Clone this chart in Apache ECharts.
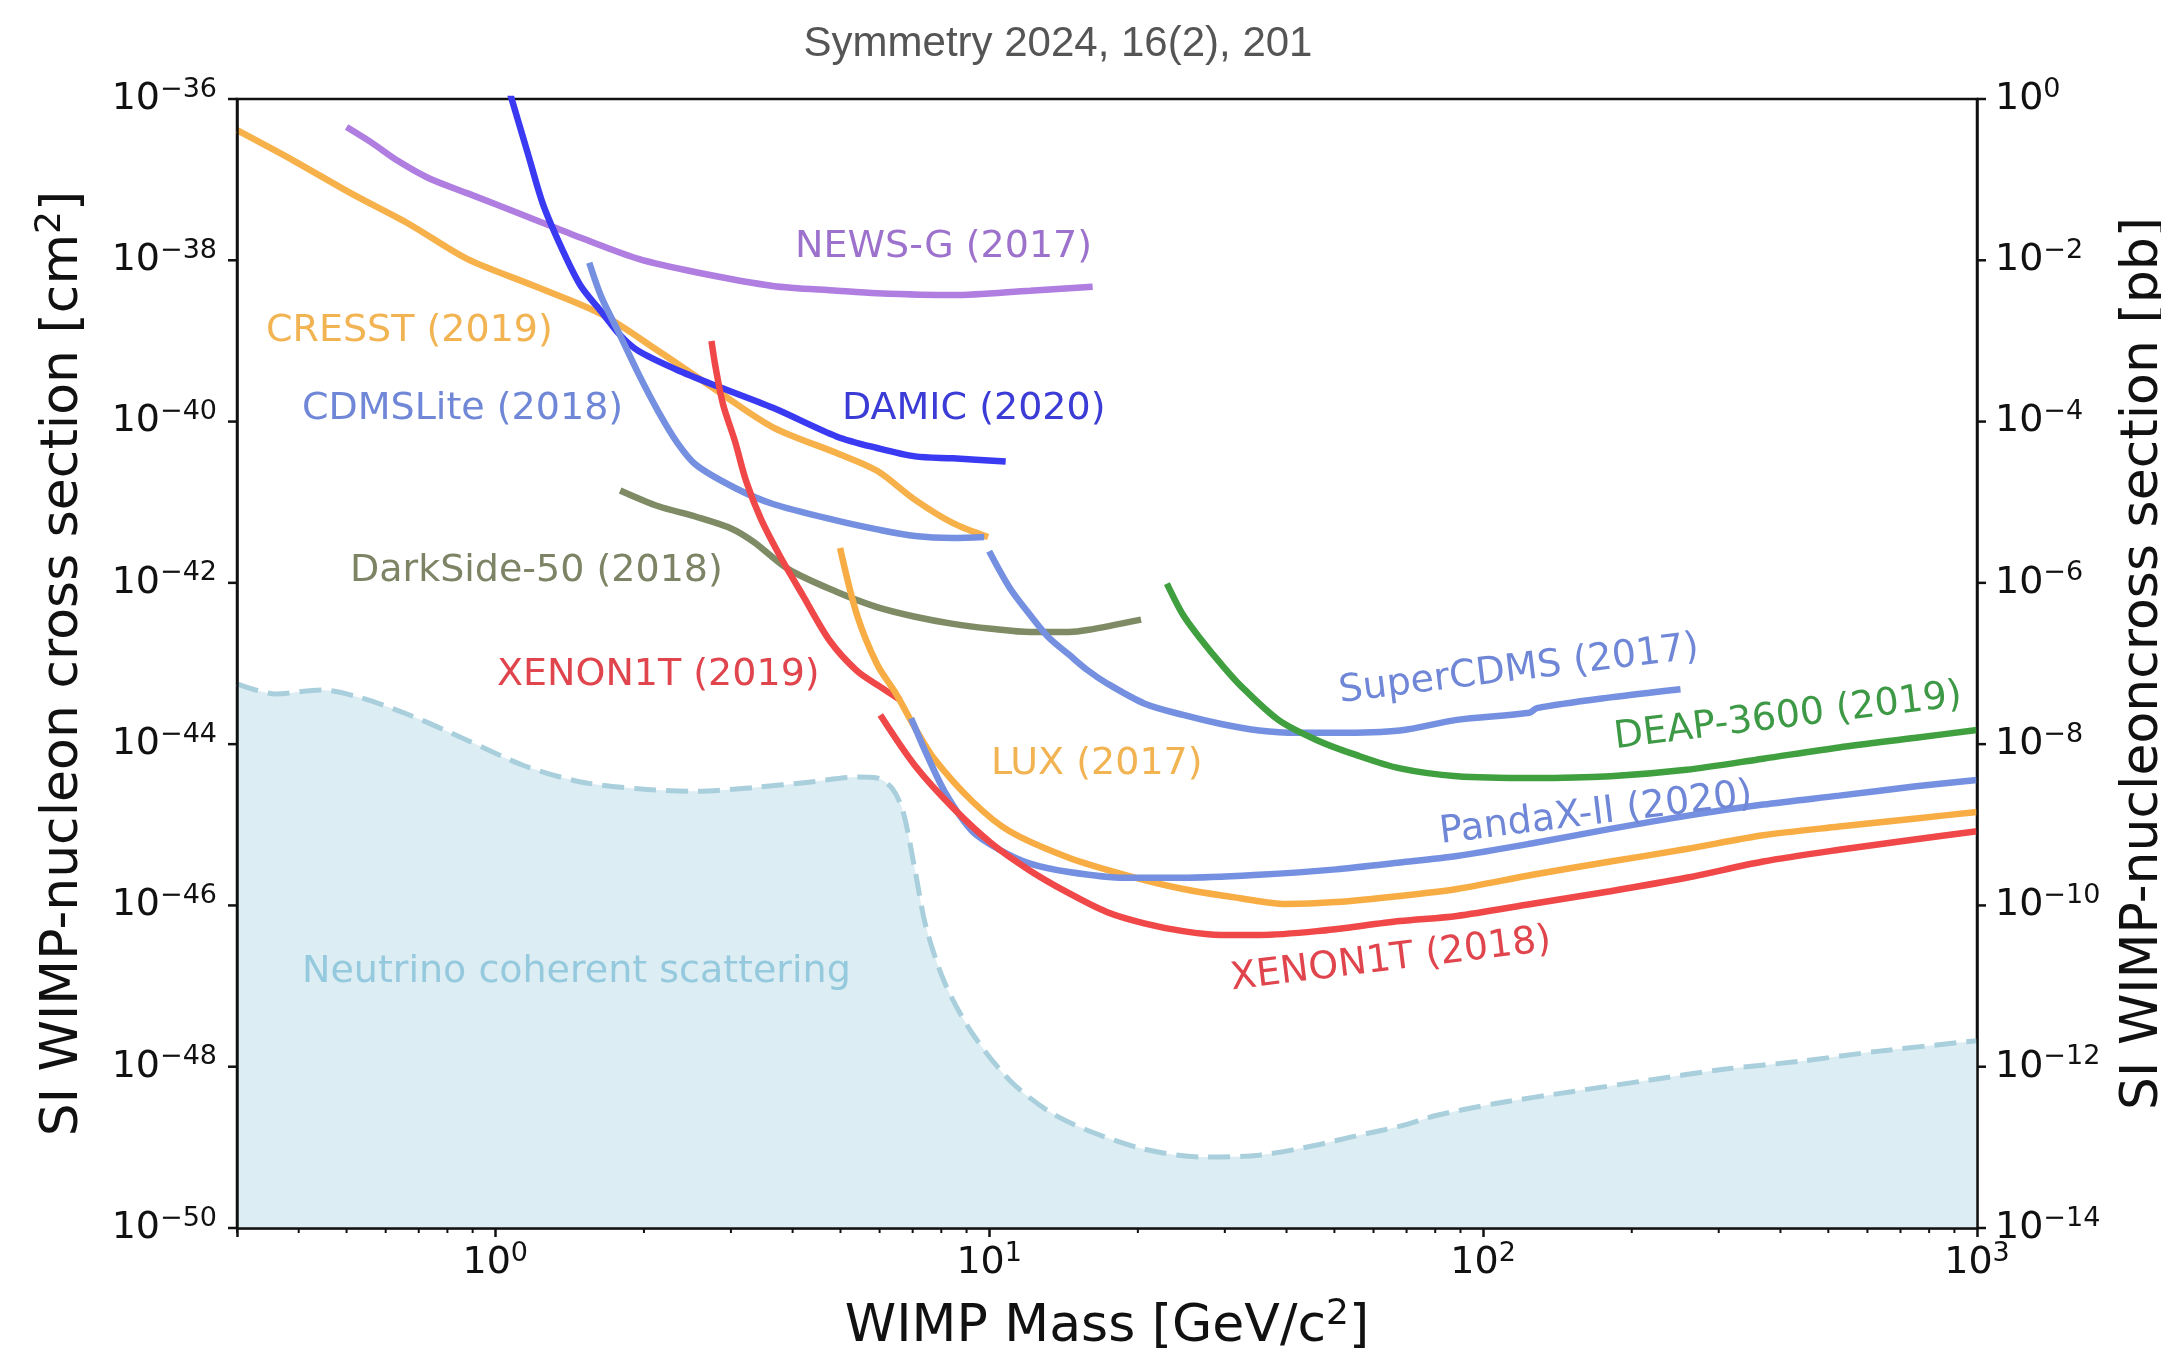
<!DOCTYPE html>
<html>
<head>
<meta charset="utf-8">
<title>WIMP limits</title>
<style>
html, body { margin: 0; padding: 0; background: #fff; }
#main { width: 2161px; height: 1349px; }
</style>
</head>
<body>
<div id="main"></div>
<script src="https://cdn.jsdelivr.net/npm/echarts@6/dist/echarts.min.js"></script>
<script>
// WIMP mass [GeV/c^2] and SI cross section [cm^2]
var cresstMass = [0.3, 0.392, 0.514, 0.67, 0.877, 1.2, 1.64, 2.14, 2.79, 3.65, 4.95, 5.93, 7.08, 8.45, 9.95];
var cresstSigma = [4.1e-37, 1.7e-37, 6.6e-38, 2.8e-38, 1.04e-38, 4.8e-39, 2.15e-39, 7.5e-40, 2.5e-40, 8.5e-41, 4.0e-41, 2.45e-41, 1.07e-41, 5.5e-42, 3.7e-42];

var newsgMass = [0.5, 0.561, 0.636, 0.732, 0.877, 1.145, 1.49, 1.95, 2.55, 3.65, 4.92, 5.93, 8.45, 12.1, 16.2];
var newsgSigma = [4.5e-37, 2.9e-37, 1.7e-37, 1.05e-37, 6.8e-38, 3.6e-38, 1.9e-38, 1.04e-38, 7.1e-39, 4.8e-39, 4.2e-39, 3.9e-39, 3.7e-39, 4.2e-39, 4.7e-39];

var damicMass = [1.07, 1.167, 1.25, 1.37, 1.49, 1.64, 1.79, 1.95, 2.33, 2.79, 3.65, 4.92, 5.93, 7.08, 8.45, 10.8];
var damicSigma = [1.2e-36, 2.0e-37, 4.9e-38, 1.32e-38, 4.8e-39, 2.3e-39, 1.18e-39, 7.5e-40, 4.4e-40, 2.8e-40, 1.48e-40, 6.5e-41, 4.7e-41, 3.7e-41, 3.5e-41, 3.2e-41];

var cdmsliteMass = [1.55, 1.64, 1.76, 1.95, 2.14, 2.33, 2.55, 3.06, 3.65, 4.92, 5.93, 7.08, 8.45, 9.77];
var cdmsliteSigma = [9.3e-39, 3.5e-39, 1.45e-39, 3.9e-40, 1.32e-40, 5.6e-41, 2.9e-41, 1.5e-41, 9.5e-42, 5.9e-42, 4.6e-42, 3.8e-42, 3.6e-42, 3.7e-42];

var supercdmsMass = [10.0, 11.0, 12.1, 13.2, 14.5, 15.8, 17.3, 20.6, 24.7, 29.5, 35.2, 42.0, 50.4, 67.9, 88.5, 124, 128.5, 181, 251];
var supercdmsSigma = [2.46e-42, 8.7e-43, 4.0e-43, 2.1e-43, 1.29e-43, 8.3e-44, 5.7e-44, 3.2e-44, 2.3e-44, 1.78e-44, 1.48e-44, 1.38e-44, 1.38e-44, 1.48e-44, 2.0e-44, 2.45e-44, 2.8e-44, 3.8e-44, 4.8e-44];

var darksideMass = [1.79, 2.14, 2.55, 3.01, 3.34, 3.92, 4.92, 5.93, 7.08, 8.45, 10.1, 12.1, 14.5, 15.8, 20.3];
var darksideSigma = [1.4e-41, 8.9e-42, 6.6e-42, 4.7e-42, 3.2e-42, 1.48e-42, 7.7e-43, 5.0e-43, 3.8e-43, 3.1e-43, 2.7e-43, 2.46e-43, 2.46e-43, 2.6e-43, 3.5e-43];

var xenon2019Mass = [2.74, 2.79, 2.89, 3.06, 3.22, 3.45, 3.78, 4.2, 4.76, 5.4, 6.0, 6.62];
var xenon2019Sigma = [1e-39, 4.9e-40, 1.66e-40, 5.6e-41, 1.83e-41, 6.2e-42, 2.09e-42, 6.9e-43, 1.9e-43, 8.1e-44, 5.2e-44, 3.5e-44];

var luxMass = [4.99, 5.4, 5.93, 6.48, 7.08, 7.74, 9.24, 11.0, 14.5, 18.8, 24.7, 32.2, 39.9, 50.4, 67.9, 88.5, 126, 181, 258, 369, 526, 753, 1000];
var luxSigma = [2.7e-42, 4.0e-43, 9.8e-44, 4.2e-44, 1.58e-44, 6.6e-45, 1.96e-45, 8.3e-46, 3.9e-46, 2.4e-46, 1.6e-46, 1.23e-46, 1.04e-46, 1.1e-46, 1.31e-46, 1.6e-46, 2.4e-46, 3.5e-46, 5.0e-46, 7.4e-46, 9.5e-46, 1.2e-45, 1.44e-45];

var pandaxMass = [6.95, 7.45, 8.15, 9.24, 10.5, 12.1, 14.5, 18.8, 24.7, 35.2, 50.4, 67.9, 88.5, 126, 181, 258, 369, 526, 753, 1000];
var pandaxSigma = [2.1e-44, 7.8e-45, 2.5e-45, 8.3e-46, 4.9e-46, 3.3e-46, 2.6e-46, 2.2e-46, 2.2e-46, 2.4e-46, 2.8e-46, 3.4e-46, 4.1e-46, 5.9e-46, 8.9e-46, 1.29e-45, 1.78e-45, 2.3e-45, 3.0e-45, 3.6e-45];

var xenon2018Mass = [6.02, 7.08, 8.45, 10.1, 12.1, 14.5, 17.3, 20.6, 24.7, 29.5, 35.2, 46.1, 67.9, 88.5, 126, 181, 258, 369, 526, 753, 1000];
var xenon2018Sigma = [2.3e-44, 5.4e-45, 1.62e-45, 5.9e-46, 2.7e-46, 1.42e-46, 8.3e-47, 6.0e-47, 4.8e-47, 4.3e-47, 4.3e-47, 4.8e-47, 6.4e-47, 7.4e-47, 1.05e-46, 1.5e-46, 2.2e-46, 3.5e-46, 4.9e-46, 6.6e-46, 8.3e-46];

var deapMass = [22.9, 24.7, 27.0, 29.5, 32.2, 38.5, 46.1, 55.1, 67.9, 88.5, 126, 181, 258, 369, 526, 753, 1000];
var deapSigma = [9.8e-43, 4.0e-43, 1.9e-43, 9.8e-44, 5.4e-44, 2.0e-44, 1.12e-44, 7.4e-45, 5.0e-45, 4.0e-45, 3.8e-45, 4.0e-45, 4.8e-45, 6.6e-45, 9.1e-45, 1.2e-44, 1.5e-44];

var neutrinoMass = [0.3, 0.359, 0.444, 0.531, 0.67, 0.877, 1.145, 1.49, 1.95, 2.55, 3.34, 4.36, 5.4, 5.93, 6.37, 6.7, 7.08, 7.45, 8.15, 9.24, 11.0, 13.2, 15.8, 20.6, 27.0, 35.2, 46.1, 55.1, 67.9, 80.7, 106, 151, 216, 307, 440, 628, 1000];
var neutrinoSigma = [5.6e-44, 4.2e-44, 4.7e-44, 3.8e-44, 2.3e-44, 1.12e-44, 5.4e-45, 3.4e-45, 2.8e-45, 2.6e-45, 2.9e-45, 3.4e-45, 3.9e-45, 3.8e-45, 2.8e-45, 1.43e-45, 2.7e-46, 5.4e-47, 1.06e-47, 2.6e-48, 6.8e-49, 2.8e-49, 1.63e-49, 9.5e-50, 7.6e-50, 8.0e-50, 1.07e-49, 1.38e-49, 1.83e-49, 2.5e-49, 3.5e-49, 4.9e-49, 6.8e-49, 9.3e-49, 1.17e-48, 1.55e-48, 2.1e-48];

// axis ticks
var yTickValues = [1e-36, 1e-38, 1e-40, 1e-42, 1e-44, 1e-46, 1e-48, 1e-50];
var yMin = 1e-50;
var pbOffset = 36; // 1 pb = 1e-36 cm^2
var xMinorTicks = [];
[0.1, 1, 10, 100].forEach(function (d) {
    for (var k = 2; k <= 9; k++) {
        var v = k * d;
        if (v > 0.29 && v < 999) xMinorTicks.push(v);
    }
});

var FONT = 'DejaVu Sans';
var INK = '#111';

function pair(xs, ys) {
    return xs.map(function (x, i) { return [x, ys[i]]; });
}

function pow10Label(e) {
    return '10{sup|' + (e < 0 ? '\u2212' + (-e) : e) + '}';
}

function curve(name, xs, ys, color) {
    return {
        name: name,
        type: 'line',
        data: pair(xs, ys),
        showSymbol: false,
        symbol: 'none',
        smooth: 0.3,
        silent: true,
        lineStyle: { color: color, width: 6.5 },
        z: 3
    };
}

var supRich = { fontSize: 27, fontFamily: FONT, verticalAlign: 'top', lineHeight: 27, fill: INK, color: INK };

var curveLabels = [
    { text: 'NEWS-G (2017)', color: '#9d72cc', x: 795, y: 247 },
    { text: 'CRESST (2019)', color: '#f2b352', x: 266, y: 331 },
    { text: 'CDMSLite (2018)', color: '#6f87d6', x: 302, y: 409 },
    { text: 'DAMIC (2020)', color: '#3b3bd6', x: 842, y: 409 },
    { text: 'DarkSide-50 (2018)', color: '#7c8465', x: 350, y: 571 },
    { text: 'XENON1T (2019)', color: '#e0454d', x: 497, y: 675 },
    { text: 'LUX (2017)', color: '#f2b352', x: 991, y: 764 },
    { text: 'Neutrino coherent scattering', color: '#95c9dd', x: 302, y: 972 },
    { text: 'SuperCDMS (2017)', color: '#6f87d6', x: 1519, y: 670, rot: 7 },
    { text: 'DEAP-3600 (2019)', color: '#3d9945', x: 1788, y: 717, rot: 7 },
    { text: 'PandaX-II (2020)', color: '#6f87d6', x: 1596, y: 814, rot: 7 },
    { text: 'XENON1T (2018)', color: '#e0454d', x: 1391, y: 960, rot: 7 }
];

var graphics = [{
    type: 'text', x: 1058, y: 44, z: 20,
    style: { text: 'Symmetry 2024, 16(2), 201', fill: '#555', font: '42px "Liberation Sans"',
        align: 'center', verticalAlign: 'middle', textAlign: 'center', textVerticalAlign: 'middle' }
}];
curveLabels.forEach(function (l) {
    var rotated = !!l.rot;
    graphics.push({
        type: 'text', x: l.x, y: l.y, z: 20,
        rotation: rotated ? l.rot * Math.PI / 180 : 0,
        style: {
            text: l.text, fill: l.color, font: '38px "' + FONT + '"',
            align: rotated ? 'center' : 'left', textAlign: rotated ? 'center' : 'left',
            verticalAlign: 'middle', textVerticalAlign: 'middle'
        }
    });
});

var chart = echarts.init(document.getElementById('main'), null, { renderer: 'canvas' });

var option = {
    animation: false,
    backgroundColor: '#fff',
    grid: {
        left: 237, right: 184, top: 99, bottom: 121,
        containLabel: false, outerBoundsMode: 'none',
        show: true, borderColor: INK, borderWidth: 2.5, backgroundColor: 'transparent'
    },
    graphic: graphics,
    xAxis: {
        type: 'log', logBase: 10, min: 0.3, max: 1000, z: 10,
        axisLine: { show: true, lineStyle: { color: INK, width: 2.5 } },
        axisTick: { show: true, inside: false, length: 9, lineStyle: { color: INK, width: 2.5 } },
        minorTick: { show: false },
        splitLine: { show: false },
        axisLabel: {
            margin: 12, color: INK, fontFamily: FONT, fontSize: 38, lineHeight: 46,
            formatter: function (v) {
                var lg = Math.log10(v);
                if (Math.abs(lg - Math.round(lg)) > 1e-6) return '';
                return pow10Label(Math.round(lg));
            },
            rich: { sup: supRich }
        },
        name: 'WIMP Mass [GeV/c{sup|2}]',
        nameLocation: 'middle', nameGap: 69, nameMoveOverlap: false,
        nameTextStyle: {
            fontFamily: FONT, fontSize: 52, color: INK, lineHeight: 60,
            rich: { sup: { fontSize: 36, fontFamily: FONT, verticalAlign: 'top', lineHeight: 36, color: INK } }
        }
    },
    yAxis: [{
        type: 'log', logBase: 10, min: yMin, max: 1e-36, position: 'left', z: 10,
        axisLine: { show: true, lineStyle: { color: INK, width: 2.5 } },
        axisTick: { show: false }, axisLabel: { show: false }, splitLine: { show: false },
        name: 'SI WIMP-nucleon cross section [cm{sup|2}]',
        nameLocation: 'middle', nameGap: 144, nameMoveOverlap: false,
        nameTextStyle: {
            fontFamily: FONT, fontSize: 52, color: INK, lineHeight: 60,
            rich: { sup: { fontSize: 36, fontFamily: FONT, verticalAlign: 'top', lineHeight: 36, color: INK } }
        }
    }, {
        type: 'log', logBase: 10, min: 1e-14, max: 1, position: 'right', z: 10,
        axisLine: { show: true, lineStyle: { color: INK, width: 2.5 } },
        axisTick: { show: false }, axisLabel: { show: false }, splitLine: { show: false },
        name: 'SI WIMP-nucleoncross section [pb]',
        nameLocation: 'middle', nameGap: 136, nameMoveOverlap: false,
        nameTextStyle: { fontFamily: FONT, fontSize: 52, color: INK, lineHeight: 60 }
    }],
    series: [
        {
            name: 'Neutrino floor',
            type: 'line',
            data: pair(neutrinoMass, neutrinoSigma),
            showSymbol: false, symbol: 'none', smooth: 0.3, silent: true,
            lineStyle: { color: '#a9cfdc', width: 5, type: [22, 10] },
            areaStyle: { origin: yMin, color: '#dcedf3', opacity: 1 },
            z: 1
        },
        curve('NEWS-G (2017)', newsgMass, newsgSigma, '#b07de0'),
        curve('CRESST (2019)', cresstMass, cresstSigma, '#f7b14a'),
        curve('DAMIC (2020)', damicMass, damicSigma, '#3a3af2'),
        curve('CDMSLite (2018)', cdmsliteMass, cdmsliteSigma, '#7590e0'),
        curve('DarkSide-50 (2018)', darksideMass, darksideSigma, '#7e8b65'),
        curve('XENON1T (2019)', xenon2019Mass, xenon2019Sigma, '#f04848'),
        curve('LUX (2017)', luxMass, luxSigma, '#f7ad44'),
        curve('SuperCDMS (2017)', supercdmsMass, supercdmsSigma, '#7590e0'),
        curve('PandaX-II (2020)', pandaxMass, pandaxSigma, '#7590e0'),
        curve('XENON1T (2018)', xenon2018Mass, xenon2018Sigma, '#f04848'),
        curve('DEAP-3600 (2019)', deapMass, deapSigma, '#40a040'),
        {
            // y ticks and labels, both sides (right side in pb)
            type: 'custom', coordinateSystem: 'cartesian2d', clip: false, silent: true, z: 12,
            data: yTickValues.map(function (v) { return [1, v]; }),
            renderItem: function (params, api) {
                var v = api.value(1);
                var y = api.coord([1, v])[1];
                var cs = params.coordSys;
                var left = cs.x, right = cs.x + cs.width;
                var e = Math.round(Math.log10(v));
                var txt = { fill: INK, fontSize: 38, fontFamily: FONT, lineHeight: 46, verticalAlign: 'middle',
                    rich: { sup: supRich } };
                return {
                    type: 'group',
                    children: [
                        { type: 'line', shape: { x1: left - 9, y1: y, x2: left, y2: y }, style: { stroke: INK, lineWidth: 2.5 } },
                        { type: 'line', shape: { x1: right, y1: y, x2: right + 9, y2: y }, style: { stroke: INK, lineWidth: 2.5 } },
                        { type: 'text', x: left - 20, y: y, style: Object.assign({ text: pow10Label(e), align: 'right' }, txt) },
                        { type: 'text', x: right + 18, y: y, style: Object.assign({ text: pow10Label(e + pbOffset), align: 'left' }, txt) }
                    ]
                };
            }
        },
        {
            // x minor ticks at 2..9 x 10^k
            type: 'custom', coordinateSystem: 'cartesian2d', clip: false, silent: true, z: 12,
            data: xMinorTicks.map(function (v) { return [v, yMin]; }),
            renderItem: function (params, api) {
                var x = api.coord([api.value(0), yMin])[0];
                var bottom = params.coordSys.y + params.coordSys.height;
                return { type: 'line', shape: { x1: x, y1: bottom, x2: x, y2: bottom + 5 }, style: { stroke: INK, lineWidth: 2 } };
            }
        }
    ]
};

chart.setOption(option);
</script>
</body>
</html>
